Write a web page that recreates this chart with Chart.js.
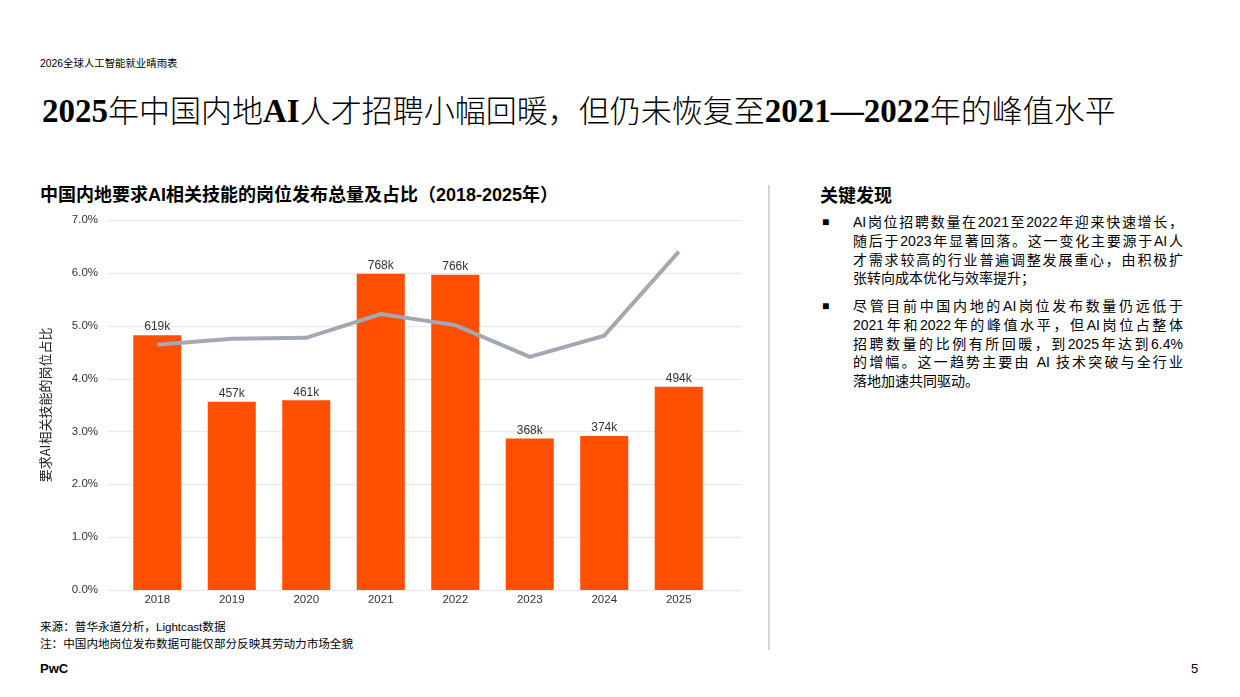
<!DOCTYPE html>
<html><head><meta charset="utf-8">
<script src="https://cdn.jsdelivr.net/npm/chart.js@4"></script>
<style>
html,body{margin:0;padding:0;background:#fff;}
body{width:1240px;height:697px;position:relative;overflow:hidden;font-family:"Liberation Sans","Noto Sans CJK SC",sans-serif;color:#000;}
.abs{position:absolute;white-space:nowrap;}
#hdr{left:40px;top:55px;font-size:10.4px;}
#title{left:42px;top:86px;font-size:31px;font-family:"Noto Sans CJK SC",sans-serif;font-weight:300;}
#title .l{font-family:"Liberation Serif",serif;font-weight:bold;font-size:33px;}
#ctitle{left:40px;top:180px;font-size:18px;font-weight:bold;}
#divider{left:768px;top:185px;width:1.5px;height:465px;background:#d4d4d4;}
#kf{left:820px;top:181px;font-size:18px;font-weight:bold;}
.bul{position:absolute;left:822px;width:362px;font-size:14px;line-height:18.8px;}
.bul .sq{position:absolute;left:0;top:0;font-size:12px;}
.bul .tx{position:absolute;left:31px;width:330px;}
.bul .ln{display:block;text-align:justify;text-align-last:justify;white-space:nowrap;}
.bul .ln.last{text-align-last:left;}
#src{left:40px;top:618px;font-size:11.6px;}
#note{left:40px;top:635px;font-size:11.6px;}
#pwc{left:40px;top:661px;font-size:13px;font-weight:bold;}
#pg{left:1191px;top:661px;font-size:13px;}
#cw{position:absolute;left:30px;top:203px;width:730px;height:411px;}
#cw canvas{display:block;}
</style></head>
<body>
<div class="abs" id="hdr">2026全球人工智能就业晴雨表</div>
<div class="abs" id="title"><span class="l">2025</span>年中国内地<span class="l">AI</span>人才招聘小幅回暖，但仍未恢复至<span class="l">2021—2022</span>年的峰值水平</div>
<div class="abs" id="ctitle">中国内地要求AI相关技能的岗位发布总量及占比（2018-2025年）</div>
<div class="abs" id="divider"></div>
<div class="abs" id="kf">关键发现</div>
<div class="bul" style="top:213px;"><span class="sq">■</span><div class="tx">
<span class="ln">AI岗位招聘数量在2021至2022年迎来快速增长，</span>
<span class="ln">随后于2023年显著回落。这一变化主要源于AI人</span>
<span class="ln">才需求较高的行业普遍调整发展重心，由积极扩</span>
<span class="ln last">张转向成本优化与效率提升；</span>
</div></div>
<div class="bul" style="top:297px;"><span class="sq">■</span><div class="tx">
<span class="ln">尽管目前中国内地的AI岗位发布数量仍远低于</span>
<span class="ln">2021年和2022年的峰值水平，但AI岗位占整体</span>
<span class="ln">招聘数量的比例有所回暖，到2025年达到6.4%</span>
<span class="ln">的增幅。这一趋势主要由 AI 技术突破与全行业</span>
<span class="ln last">落地加速共同驱动。</span>
</div></div>
<div class="abs" id="src">来源：普华永道分析，Lightcast数据</div>
<div class="abs" id="note">注：中国内地岗位发布数据可能仅部分反映其劳动力市场全貌</div>
<div class="abs" id="pwc">PwC</div>
<div class="abs" id="pg">5</div>
<div id="cw"><canvas id="c"></canvas></div>
<script>
const years = ['2018','2019','2020','2021','2022','2023','2024','2025'];
const postingsK = [619, 457, 461, 768, 766, 368, 374, 494];
const sharePct = [4.64, 4.75, 4.77, 5.22, 5.01, 4.41, 4.81, 6.4];
const yTicks = [0,1,2,3,4,5,6,7];

const gridPlugin = {
  id:'gridExt',
  beforeDatasetsDraw(chart){
    const ctx = chart.ctx, y = chart.scales.y, a = chart.chartArea;
    ctx.save();
    ctx.strokeStyle = '#EBEBEB';
    ctx.lineWidth = 1.5;
    yTicks.forEach(v=>{
      const py = Math.round(y.getPixelForValue(v)) + 0.5;
      ctx.beginPath();
      ctx.moveTo(a.left - 13, py);
      ctx.lineTo(a.right + 26, py);
      ctx.stroke();
    });
    ctx.restore();
  }
};

const barLabels = {
  id:'barLabels',
  afterDatasetsDraw(chart){
    const ctx = chart.ctx;
    const meta = chart.getDatasetMeta(1);
    ctx.save();
    ctx.font = '12px "Liberation Sans", sans-serif';
    ctx.fillStyle = '#333';
    ctx.textAlign = 'center';
    ctx.textBaseline = 'bottom';
    meta.data.forEach((el,i)=>{
      ctx.fillText(postingsK[i]+'k', el.x, el.y - 2);
    });
    ctx.restore();
  }
};

new Chart(document.getElementById('c'), {
  data:{
    labels: years,
    datasets:[
      {type:'line', label:'占比', data: sharePct, yAxisID:'y', borderColor:'#A3A9B2', borderWidth:4, pointRadius:0, tension:0, order:0},
      {type:'bar', label:'岗位发布总量', data: postingsK, yAxisID:'y1', backgroundColor:'#FE5000', barPercentage:0.645, categoryPercentage:1, order:1}
    ]
  },
  options:{
    responsive:true, maintainAspectRatio:false, animation:false,
    layout:{padding:{top:0,right:44,bottom:0,left:0}},
    plugins:{legend:{display:false}, tooltip:{enabled:false}},
    scales:{
      x:{
        afterFit(s){ s.height = 24; },
        grid:{display:false, drawTicks:false},
        border:{display:false},
        ticks:{padding:3, maxRotation:0, autoSkip:false, color:'#333', font:{size:11.5, family:'"Liberation Sans", sans-serif'}}
      },
      y:{
        min:0, max:7,
        afterFit(s){ s.width = 90; },
        afterBuildTicks(s){ s.ticks = yTicks.map(v=>({value:v})); },
        grid:{display:true, drawOnChartArea:false, drawTicks:true, tickLength:12, color:'rgba(0,0,0,0)'},
        border:{display:false},
        ticks:{padding:10, color:'#333', font:{size:11.5, family:'"Liberation Sans", sans-serif'}, callback:v=>v.toFixed(1)+'%'},
        title:{display:true, text:'要求AI相关技能的岗位占比', color:'#222', font:{size:13, family:'"Noto Sans CJK SC", sans-serif'}, padding:{top:7,bottom:0}}
      },
      y1:{display:false, min:0, max:899}
    }
  },
  plugins:[gridPlugin, barLabels]
});
</script>
</body></html>
